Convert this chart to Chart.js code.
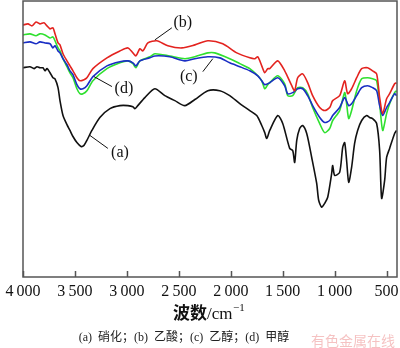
<!DOCTYPE html>
<html>
<head>
<meta charset="utf-8">
<script src="https://cdn.jsdelivr.net/npm/chart.js@4.4.1/dist/chart.umd.min.js"></script>
<style>
html,body{margin:0;padding:0;background:#fff;}
#wrap{width:400px;height:348px;}
</style>
</head>
<body>
<div id="wrap"><canvas id="ftir" width="400" height="348"></canvas></div>
<script>
// FTIR spectra, transmittance (%) vs wavenumber (cm-1)
const tickVals = [4000, 3500, 3000, 2500, 2000, 1500, 1000, 500];

// (a) nitrated
const aWn = [4000,3933,3894,3865,3837,3808,3788,3769,3740,3712,3692,3663,3644,3615,3577,3548,3519,3481,3442,3413,3385,3337,3260,3163,3067,2990,2942,2923,2904,2827,2731,2635,2538,2442,2346,2221,2106,2010,1913,1817,1750,1702,1673,1654,1625,1548,1500,1433,1404,1385,1365,1337,1308,1269,1221,1173,1154,1125,1096,1067,1029,1019,1000,952,923,904,885,865,837,808,779,740,692,664,635,596,567,548,519,500,471,423,404];
const aT  = [75.8,76.2,75.5,76.2,75.8,75.8,74.7,75.5,74.0,72.2,71.8,68.6,63.9,58.5,55.2,53.1,50.9,48.7,47.3,47.7,49.5,53.1,57.8,61.0,62.1,62.1,61.7,61.0,61.7,65.0,68.2,65.7,63.9,62.1,64.3,67.5,67.5,65.7,62.8,60.3,58.5,54.9,52.3,50.2,53.1,58.5,55.6,46.6,45.8,41.5,49.5,53.8,54.9,52.0,43.3,33.9,27.8,25.3,26.7,28.9,37.5,40.4,36.8,37.9,46.9,48.7,42.2,34.3,39.7,48.4,53.1,56.7,58.5,57.8,57.4,55.6,45.8,28.5,35.0,43.3,46.6,52.0,53.1];

// (b) acetic acid
const bWn = [4000,3952,3913,3875,3837,3798,3769,3740,3712,3692,3663,3644,3615,3577,3548,3519,3481,3452,3413,3385,3327,3192,3067,2990,2942,2913,2875,2846,2798,2712,2606,2471,2346,2221,2077,1942,1817,1769,1740,1702,1673,1644,1625,1548,1481,1413,1385,1356,1308,1260,1212,1144,1096,1048,1019,952,904,875,837,788,740,683,635,596,567,538,500,471,423,404];
const bT  = [91.3,91.7,91.0,92.4,91.7,92.1,91.0,89.9,90.3,88.1,84.8,84.1,80.9,78.3,76.5,74.7,72.2,71.1,71.5,72.2,75.5,79.4,81.9,83.0,81.2,80.1,82.7,81.9,84.8,85.6,83.8,83.0,84.1,85.6,84.5,81.2,79.4,79.1,79.8,76.5,74.0,75.5,75.5,78.3,74.7,69.3,67.5,72.2,73.6,70.4,65.7,61.4,60.3,61.4,63.9,65.7,71.1,66.4,68.2,72.2,75.5,75.8,74.7,73.6,65.0,59.2,64.6,66.4,70.0,70.4];

// (c) ethanol
const cWn = [4000,3933,3875,3837,3788,3740,3712,3692,3663,3644,3615,3577,3548,3519,3481,3452,3423,3385,3327,3192,3067,2990,2942,2913,2875,2779,2731,2587,2442,2346,2221,2106,2010,1913,1817,1740,1702,1673,1625,1548,1481,1452,1404,1356,1308,1260,1212,1144,1096,1048,1019,952,904,865,837,788,740,683,635,596,567,538,500,471,423,404];
const cT  = [84.8,85.2,84.5,85.2,84.8,84.5,83.0,83.8,81.9,81.2,79.1,76.9,74.7,73.3,69.7,68.2,68.2,69.3,72.6,76.5,78.0,78.3,77.6,76.5,78.3,79.4,80.1,79.8,78.3,79.1,79.8,79.4,77.6,76.2,74.7,72.9,71.1,69.7,70.4,72.2,69.3,66.4,66.8,68.2,68.2,65.7,62.1,57.8,56.0,56.7,58.5,61.4,65.0,62.1,62.8,65.7,68.6,69.3,68.6,67.5,62.1,58.5,61.4,63.2,66.4,65.7];

// (d) methanol
const dWn = [4000,3933,3875,3837,3788,3740,3712,3692,3663,3644,3615,3577,3548,3519,3481,3452,3423,3385,3327,3192,3067,2990,2942,2913,2875,2779,2731,2587,2442,2346,2221,2154,2010,1913,1817,1740,1702,1673,1644,1625,1548,1481,1452,1404,1356,1308,1260,1212,1144,1096,1048,1019,952,904,885,865,837,788,740,683,635,596,567,538,500,471,423,404];
const dT  = [87.7,88.1,87.4,88.1,87.7,86.6,87.0,85.6,83.0,81.9,79.1,76.2,74.0,72.2,68.2,66.4,66.4,67.5,71.1,75.5,77.6,78.3,77.3,75.8,78.3,79.8,80.9,80.1,79.1,79.8,81.2,81.2,79.1,77.3,75.5,72.9,71.1,68.2,69.7,70.4,72.9,70.0,65.7,65.7,68.6,68.6,66.4,61.4,55.6,52.3,53.8,56.7,60.3,66.8,62.8,57.4,60.3,67.5,71.8,72.2,71.8,71.1,62.8,53.1,59.2,62.8,66.8,67.5];

const seriesLabels = ['(a)', '(b)', '(c)', '(d)'];
const seriesColors = ['#111111', '#e3231f', '#1a2ec4', '#2fe02f'];

// curve tags: text anchor and leader line, in wavenumber / transmittance
const tags = [
  { text: '(a)', at: [3067, 45.1], from: [3356, 51.3], to: [3183, 46.6] },
  { text: '(b)', at: [2462, 92.1], from: [2731, 85.9], to: [2567, 90.3] },
  { text: '(c)', at: [2404, 72.6], from: [2269, 74.4], to: [2173, 79.1] },
  { text: '(d)', at: [3029, 68.2], from: [3317, 72.6], to: [3144, 69.0] }
];

const serif = "'Liberation Serif', 'DejaVu Serif', serif";
const cjk = "'Noto Sans CJK SC', sans-serif";

function toPoints(wn, t) {
  return wn.map((w, i) => ({ x: w, y: t[i] }));
}

function fmtTick(v) {
  if (v < 1000) return String(v);
  return Math.floor(v / 1000) + '\u2009' + String(v % 1000).padStart(3, '0');
}

const decor = {
  id: 'decor',
  afterDraw(chart) {
    const ctx = chart.ctx, ca = chart.chartArea;
    const xs = chart.scales.x, ys = chart.scales.y;
    ctx.save();

    // box frame
    ctx.strokeStyle = '#555';
    ctx.lineWidth = 1.5;
    ctx.strokeRect(ca.left, ca.top, ca.right - ca.left, ca.bottom - ca.top);

    // inward ticks on the bottom axis
    ctx.beginPath();
    tickVals.forEach(v => {
      const px = Math.round(xs.getPixelForValue(v)) + 0.5;
      ctx.moveTo(px, ca.bottom);
      ctx.lineTo(px, ca.bottom - 6);
    });
    ctx.stroke();

    // curve tags
    ctx.strokeStyle = '#111';
    ctx.lineWidth = 1;
    ctx.fillStyle = '#111';
    ctx.font = '16px ' + serif;
    ctx.textAlign = 'center';
    ctx.textBaseline = 'middle';
    tags.forEach(t => {
      ctx.beginPath();
      ctx.moveTo(xs.getPixelForValue(t.from[0]), ys.getPixelForValue(t.from[1]));
      ctx.lineTo(xs.getPixelForValue(t.to[0]), ys.getPixelForValue(t.to[1]));
      ctx.stroke();
      ctx.fillText(t.text, xs.getPixelForValue(t.at[0]), ys.getPixelForValue(t.at[1]));
    });

    // axis title: 波数/cm-1
    ctx.textAlign = 'left';
    ctx.textBaseline = 'alphabetic';
    let x = 173;
    const base = 319;
    ctx.font = 'bold 17px ' + cjk;
    ctx.fillText('波数', x, base);
    x += ctx.measureText('波数').width;
    ctx.font = '17px ' + serif;
    ctx.fillText('/cm', x, base);
    x += ctx.measureText('/cm').width;
    ctx.font = '11px ' + serif;
    ctx.fillText('\u22121', x + 0.5, base - 8);

    // caption
    ctx.font = '12px ' + serif + ", 'Noto Sans CJK SC'";
    ctx.textAlign = 'center';
    ctx.fillStyle = '#222';
    ctx.fillText('(a)\u2002硝化；(b)\u2002乙酸；(c)\u2002乙醇；(d)\u2002甲醇', 184, 341);

    // source mark
    ctx.textAlign = 'left';
    ctx.font = '14px ' + cjk;
    ctx.fillStyle = 'rgba(232, 120, 120, 0.45)';
    ctx.fillText('有色金属在线', 311, 346);

    ctx.restore();
  }
};

const datasets = [aWn, bWn, cWn, dWn].map((wn, i) => ({
  label: seriesLabels[i],
  data: toPoints(wn, [aT, bT, cT, dT][i]),
  borderColor: seriesColors[i],
  borderWidth: 1.6,
  pointRadius: 0,
  tension: 0.25,
  fill: false
}));

new Chart(document.getElementById('ftir'), {
  type: 'line',
  data: { datasets },
  options: {
    responsive: false,
    animation: false,
    devicePixelRatio: 1,
    layout: { padding: { left: 23, right: 3, top: 1, bottom: 0 } },
    plugins: { legend: { display: false }, tooltip: { enabled: false } },
    scales: {
      x: {
        type: 'linear',
        reverse: true,
        min: 400,
        max: 4000,
        grid: { display: false, drawTicks: false },
        border: { display: false },
        afterBuildTicks: s => { s.ticks = tickVals.map(v => ({ value: v })); },
        afterFit: s => { s.height = 71; s.paddingLeft = 0; s.paddingRight = 0; },
        ticks: {
          autoSkip: false,
          maxRotation: 0,
          padding: 5,
          color: '#111',
          font: { family: serif, size: 16 },
          callback: v => fmtTick(v)
        }
      },
      y: {
        display: false,
        min: 0,
        max: 100
      }
    }
  },
  plugins: [decor]
});
</script>
</body>
</html>
